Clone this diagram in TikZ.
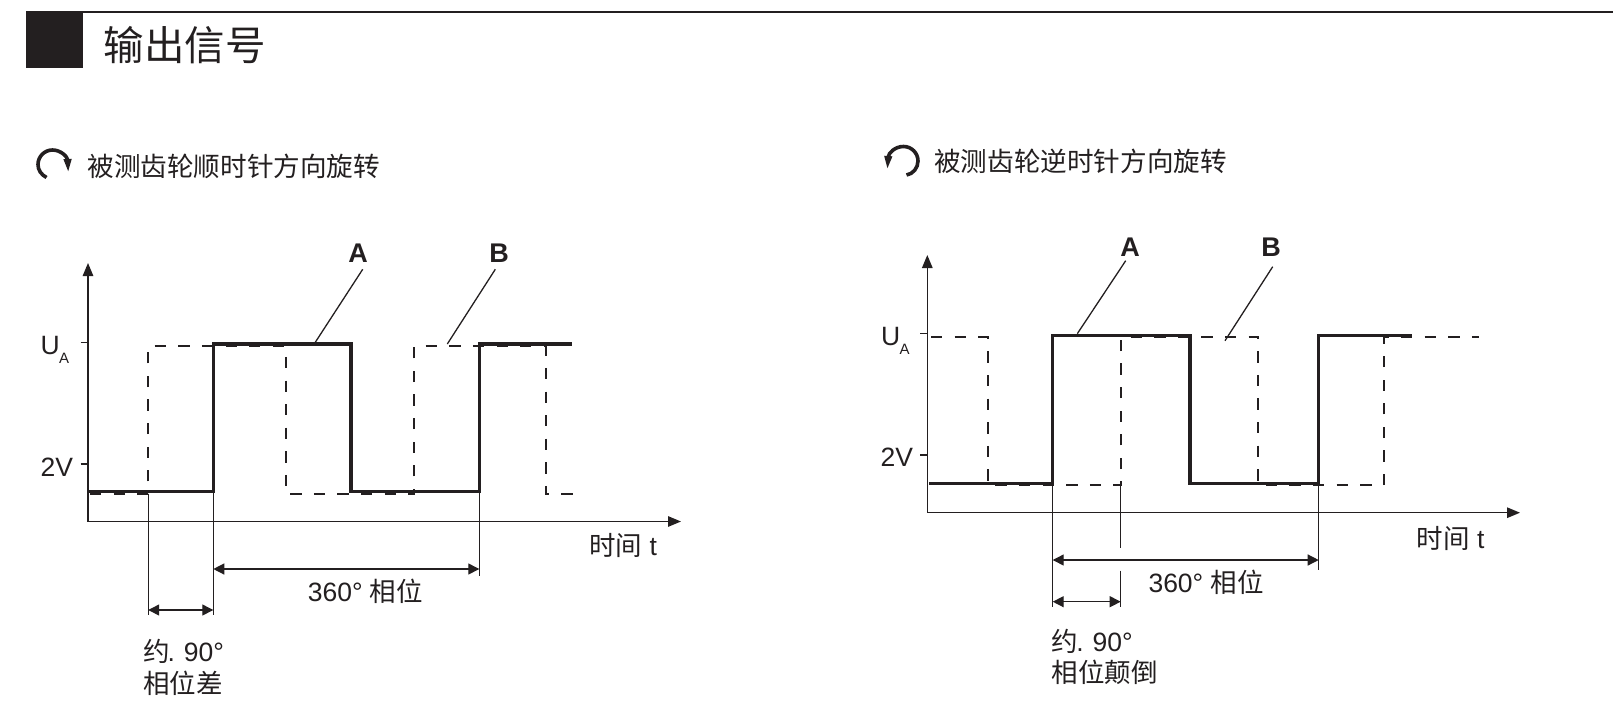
\documentclass[tikz,border=0pt]{standalone}
\usepackage{fontspec}
\setmainfont{Liberation Sans}
\newfontfamily\cjk{Noto Sans CJK SC}
\usetikzlibrary{arrows.meta}
\definecolor{ink}{HTML}{231F20}
\tikzset{
 lab/.style={anchor=base west,inner sep=0pt,text=ink,font=\fontsize{26.5}{30}\selectfont},
 sublab/.style={anchor=base west,inner sep=0pt,text=ink,font=\fontsize{15}{17}\selectfont},
 boldlab/.style={anchor=base,inner sep=0pt,text=ink,font=\fontsize{27}{30}\selectfont\bfseries},
 headlab/.style={anchor=base west,inner sep=0pt,text=ink,font=\fontsize{26.6}{30}\selectfont\cjk},
 thinline/.style={ink,line width=1.3pt},
 axisline/.style={thinline,-{Triangle[length=13pt,width=10.5pt]}},
 dimline/.style={thinline,{Triangle[length=11pt,width=11pt]}-{Triangle[length=11pt,width=11pt]}},
 signalA/.style={ink,line width=3.2pt,line join=miter},
 signalB/.style={ink,line width=1.7pt,dash pattern=on 11.3pt off 12.3pt},
 rotarrow/.style={ink,line width=3.6pt,-{Triangle[length=14pt,width=7pt]}},
}
\begin{document}
\begin{tikzpicture}[x=1pt,y=-1pt]
\useasboundingbox (0,0) rectangle (1613,723);
% header
\fill[ink] (26,11.5) rectangle (82.7,68.3);
\draw[thinline] (26,12)--(1613,12);
\node[lab,font=\fontsize{40.5}{44}\selectfont\cjk] (title) at (103.5,60.5) {输出信号};
% rotation marks
\draw[rotarrow] (46.5,177.5) .. controls (41,174.5) and (38,170) .. (38,164.5) .. controls (38,156.5) and (44.5,150) .. (52.5,150) .. controls (61,150) and (67.5,157) .. (68.3,173);
\node[headlab] (cwtext) at (87.3,176) {被测齿轮顺时针方向旋转};
\draw[rotarrow] (906.5,175) .. controls (913,174) and (918,168) .. (918,161) .. controls (918,153) and (911.5,146.5) .. (903.5,146.5) .. controls (895,146.5) and (888.5,153) .. (887.3,170);
\node[headlab] (ccwtext) at (934,171) {被测齿轮逆时针方向旋转};

% left plot
\coordinate (lO) at (88,521.5);
\coordinate (lY) at (88,263);
\coordinate (lX) at (681,521.5);
\draw[axisline] (lO)--(lY);
\draw[axisline] (lO)--(lX);
\foreach \y in {342.7,464} {
 \draw[thinline] (80.5,\y)--(88,\y);
}
\draw[signalB] (90,494)--(148.2,494)--(148.2,346.3)--(285.7,346.3)--(285.7,494)--(414.2,494)--(414.2,346.3)--(545.7,346.3)--(545.7,494)--(575,494);
\draw[signalA] (89,491.7)--(213.3,491.7)--(213.3,344)--(351,344)--(351,491.7)--(479.3,491.7)--(479.3,344)--(571.7,344);
\node[lab] (lU) at (40.5,354) {U};
\node[sublab] (lUs) at (59,363.3) {A};
\node[lab] (lV) at (40.5,476) {2V};
\node[boldlab] (lA) at (358,262.7) {A};
\node[boldlab] (lB) at (499,262.7) {B};
\coordinate (lAs) at (362.7,269.3);
\coordinate (lAe) at (315,342.7);
\coordinate (lBs) at (495.3,269.3);
\coordinate (lBe) at (447.3,344);
\draw[thinline] (lAs)--(lAe);
\draw[thinline] (lBs)--(lBe);
% left dimensions
\coordinate (lw1) at (148.2,494);
\coordinate (lw1e) at (148.2,615);
\coordinate (lw2) at (213.3,491.7);
\coordinate (lw2e) at (213.3,615);
\coordinate (lw3) at (479.3,491.7);
\coordinate (lw3e) at (479.3,576);
\draw[thinline] (lw1)--(lw1e);
\draw[thinline] (lw2)--(lw2e);
\draw[thinline] (lw3)--(lw3e);
\coordinate (ld1) at (213.3,569);
\coordinate (ld2) at (479.3,569);
\coordinate (ld3) at (148.2,610);
\coordinate (ld4) at (213.3,610);
\draw[dimline] (ld1)--(ld2);
\draw[dimline] (ld3)--(ld4);
\node[lab] (ltime) at (589,555) {{\cjk 时间} t};
\node[lab] (lfull) at (307.6,601.7) {360° {\cjk 相位}};
\node[lab] (lapprox) at (143,661.7) {{\cjk 约}\kern-2pt.\kern-1pt{} 90°};
\node[lab,font=\fontsize{26.5}{30}\selectfont\cjk] (lphase) at (143,693) {相位差};

% right plot
\coordinate (rO) at (927.3,512.7);
\coordinate (rY) at (927.3,255);
\coordinate (rX) at (1520,512.7);
\draw[axisline] (rO)--(rY);
\draw[axisline] (rO)--(rX);
\foreach \y in {333.7,455} {
 \draw[thinline] (920,\y)--(927.3,\y);
}
\draw[signalB] (931,337.3)--(987.7,337.3)--(987.7,485.3)--(1120.7,485.3)--(1120.7,337.3)--(1258.3,337.3)--(1258.3,485.3)--(1383.7,485.3)--(1383.7,337.3)--(1479,337.3);
\draw[signalA] (929,483.3)--(1052.7,483.3)--(1052.7,335.7)--(1190,335.7)--(1190,483.3)--(1318.7,483.3)--(1318.7,335.7)--(1411.7,335.7);
\node[lab] (rU) at (881,345) {U};
\node[sublab] (rUs) at (899.3,354.3) {A};
\node[lab] (rV) at (880.5,466.7) {2V};
\node[boldlab] (rA) at (1130,256) {A};
\node[boldlab] (rB) at (1271,256) {B};
\coordinate (rAs) at (1125.7,260.7);
\coordinate (rAe) at (1077.3,333.7);
\coordinate (rBs) at (1272.7,266.7);
\coordinate (rBe) at (1225,340.7);
\draw[thinline] (rAs)--(rAe);
\draw[thinline] (rBs)--(rBe);
% right dimensions
\coordinate (rw1) at (1052.7,483.3);
\coordinate (rw1e) at (1052.7,606.7);
\coordinate (rw2) at (1120.7,485.3);
\coordinate (rw2e) at (1120.7,547.7);
\coordinate (rw3) at (1120.7,570.7);
\coordinate (rw3e) at (1120.7,606.7);
\coordinate (rw4) at (1318.7,483.3);
\coordinate (rw4e) at (1318.7,570);
\draw[thinline] (rw1)--(rw1e);
\draw[thinline] (rw2)--(rw2e);
\draw[thinline] (rw3)--(rw3e);
\draw[thinline] (rw4)--(rw4e);
\coordinate (rd1) at (1052.7,560);
\coordinate (rd2) at (1318.7,560);
\coordinate (rd3) at (1052.7,601.7);
\coordinate (rd4) at (1120.7,601.7);
\draw[dimline] (rd1)--(rd2);
\draw[dimline] (rd3)--(rd4);
\node[lab] (rtime) at (1416.6,548) {{\cjk 时间} t};
\node[lab] (rfull) at (1148.3,592.7) {360° {\cjk 相位}};
\node[lab] (rapprox) at (1051.7,651.7) {{\cjk 约}\kern-2pt.\kern-1pt{} 90°};
\node[lab,font=\fontsize{26.5}{30}\selectfont\cjk] (rphase) at (1051.7,682) {相位颠倒};
\end{tikzpicture}
\end{document}
